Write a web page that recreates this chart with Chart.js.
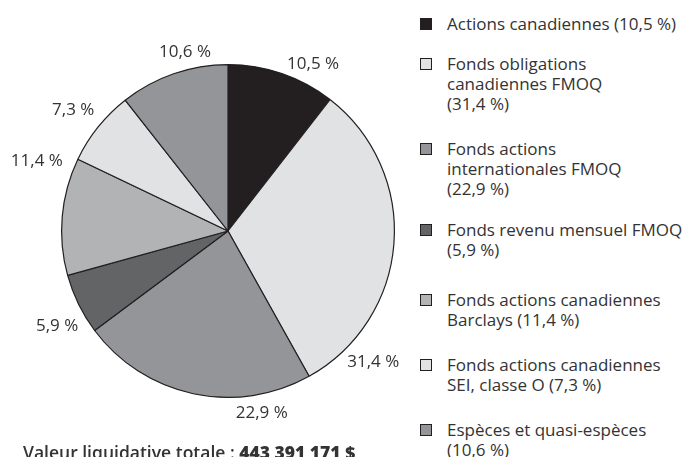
<!DOCTYPE html>
<html lang="fr">
<head>
    <meta charset="UTF-8">
    <title>Répartition de l'actif</title>
    <script src="https://cdn.jsdelivr.net/npm/chart.js"></script>
    <style>
        body {
            margin: 0;
            background: #fff;
            font-family: 'Open Sans', sans-serif;
            color: #333;
        }
        .wrap {
            position: relative;
            width: 684px;
            height: 457px;
            overflow: hidden;
        }
        .pie-box {
            position: absolute;
            left: 0;
            top: 0;
            width: 420px;
            height: 457px;
        }
        #legend {
            position: absolute;
            left: 420px;
            top: 14px;
            font-size: 17px;
            line-height: 20px;
        }
        .item {
            display: flex;
            align-items: flex-start;
        }
        .box {
            width: 10px;
            height: 10px;
            border: 1px solid #231f20;
            margin-top: 4px;
            margin-right: 15px;
            flex: none;
        }
        .total {
            position: absolute;
            left: 23px;
            top: 440px;
            font-size: 17.5px;
            font-weight: 600;
            white-space: nowrap;
        }
        .total b { font-weight: 800; }
    </style>
</head>
<body>
<div class="wrap">
    <div class="pie-box"><canvas id="pieChart"></canvas></div>
    <div id="legend"></div>
    <div class="total">Valeur liquidative totale : <b>443 391 171 $</b></div>
</div>

<script>
    // categories (legend lines) and shares in %
    const legendLines = [
        ['Actions canadiennes (10,5 %)'],
        ['Fonds obligations', 'canadiennes FMOQ', '(31,4 %)'],
        ['Fonds actions', 'internationales FMOQ', '(22,9 %)'],
        ['Fonds revenu mensuel FMOQ', '(5,9 %)'],
        ['Fonds actions canadiennes', 'Barclays (11,4 %)'],
        ['Fonds actions canadiennes', 'SEI, classe O (7,3 %)'],
        ['Espèces et quasi-espèces', '(10,6 %)']
    ];
    const shares = [10.5, 31.4, 22.9, 5.9, 11.4, 7.3, 10.6];
    const shareLabels = ['10,5 %', '31,4 %', '22,9 %', '5,9 %', '11,4 %', '7,3 %', '10,6 %'];
    const colors = ['#231f20', '#e1e2e4', '#939598', '#636466', '#b1b3b5', '#e1e2e4', '#939598'];

    // where each percentage sits around the pie: [angle from 12 o'clock, gap beyond the rim]
    const labelSpots = [[27, 21], [132, 29], [169.5, 19], [241, 29], [290, 37], [308, 30], [346.5, 18]];
    // space under each legend entry
    const legendGaps = [20, 25, 21, 30, 25, 25, 0];

    // legend
    const legend = document.getElementById('legend');
    legendLines.forEach((lines, i) => {
        const item = document.createElement('div');
        item.className = 'item';
        item.style.marginBottom = legendGaps[i] + 'px';
        const box = document.createElement('div');
        box.className = 'box';
        box.style.background = colors[i];
        const txt = document.createElement('div');
        txt.innerHTML = lines.join('<br>');
        item.appendChild(box);
        item.appendChild(txt);
        legend.appendChild(item);
    });

    const outsideLabels = {
        id: 'outsideLabels',
        afterDraw(chart) {
            const ctx = chart.ctx;
            const arcs = chart.getDatasetMeta(0).data;
            if (!arcs.length) return;
            const cx = arcs[0].x, cy = arcs[0].y, r = arcs[0].outerRadius;
            ctx.save();
            ctx.font = '17px "Open Sans"';
            ctx.fillStyle = '#333';
            ctx.textAlign = 'center';
            ctx.textBaseline = 'middle';
            shareLabels.forEach((t, i) => {
                const a = labelSpots[i][0] * Math.PI / 180;
                const d = r + labelSpots[i][1];
                ctx.fillText(t, cx + d * Math.sin(a), cy - d * Math.cos(a));
            });
            ctx.restore();
        }
    };

    new Chart(document.getElementById('pieChart'), {
        type: 'pie',
        data: {
            labels: legendLines.map(l => l.join(' ')),
            datasets: [{
                data: shares,
                backgroundColor: colors,
                borderColor: '#231f20',
                borderWidth: 1.2
            }]
        },
        options: {
            responsive: true,
            maintainAspectRatio: false,
            animation: false,
            layout: { padding: { left: 61, right: 25, top: 64, bottom: 59 } },
            plugins: {
                legend: { display: false },
                tooltip: { enabled: false }
            }
        },
        plugins: [outsideLabels]
    });
</script>
</body>
</html>
